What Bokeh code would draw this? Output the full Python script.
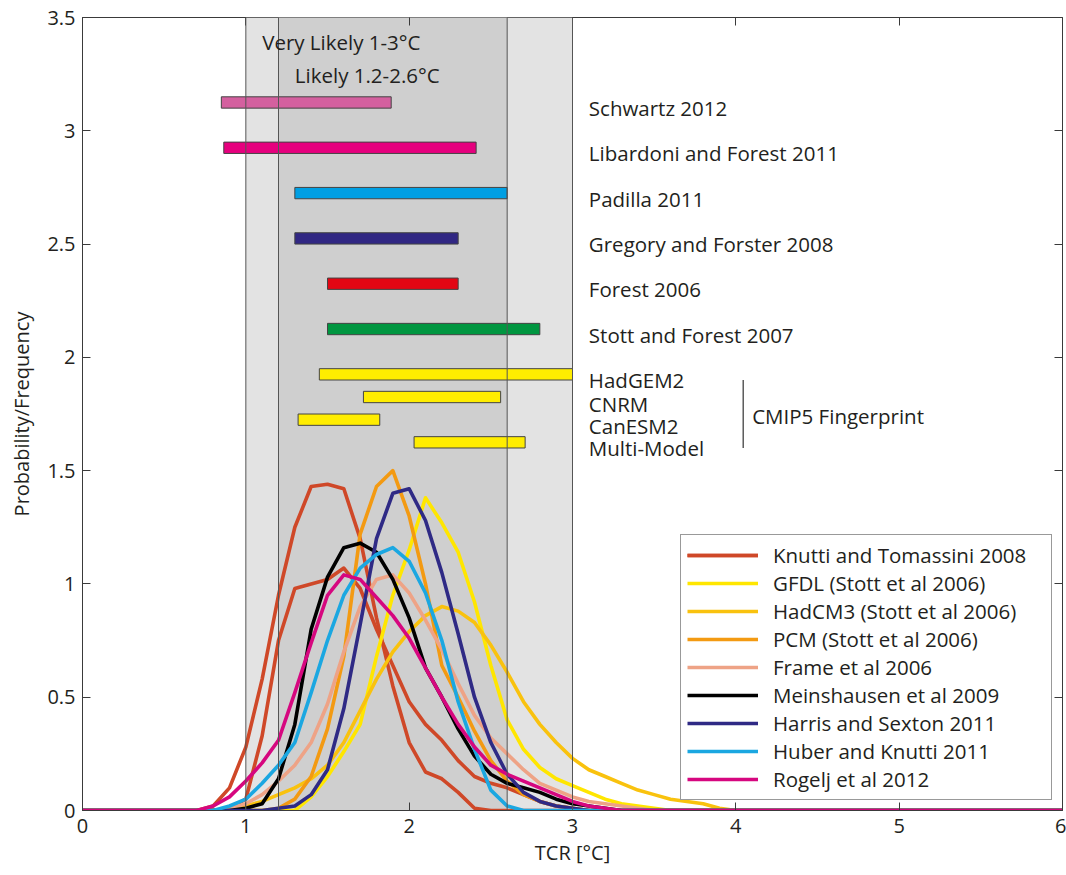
from bokeh.plotting import figure
from bokeh.models import (Legend, LegendItem, LinearAxis, Range1d, FixedTicker,
                          Label, Span)
from bokeh.embed import file_html
from bokeh.resources import INLINE
from bokeh.core.properties import value

FONT = "Open Sans"
TXT = "#231f20"
FS = "20.5px"

# ---------------- data ----------------
tcr = [0.0, 0.6, 0.7, 0.8, 0.9, 1.0, 1.1, 1.2, 1.3, 1.4, 1.5, 1.6, 1.7, 1.8, 1.9,
       2.0, 2.1, 2.2, 2.3, 2.4, 2.5, 2.6, 2.7, 2.8, 2.9, 3.0, 3.1, 3.2, 3.3, 3.4,
       3.5, 3.6, 3.7, 3.8, 3.9, 4.0, 6.0]

knutti_a = [0, 0, 0, 0.02, 0.10, 0.28, 0.58, 0.95, 1.25, 1.43, 1.44, 1.42, 1.20, 0.85, 0.55,
            0.30, 0.17, 0.14, 0.08, 0.01, 0, 0, 0, 0, 0, 0, 0, 0, 0, 0,
            0, 0, 0, 0, 0, 0, 0]
knutti_b = [0, 0, 0, 0, 0.01, 0.05, 0.33, 0.75, 0.98, 1.00, 1.02, 1.07, 0.98, 0.80, 0.64,
            0.48, 0.38, 0.31, 0.22, 0.15, 0.12, 0.10, 0.07, 0.04, 0.02, 0.01, 0, 0, 0, 0,
            0, 0, 0, 0, 0, 0, 0]
gfdl = [0, 0, 0, 0, 0, 0, 0, 0, 0, 0.06, 0.15, 0.26, 0.38, 0.68, 0.95,
        1.15, 1.38, 1.27, 1.14, 0.92, 0.64, 0.40, 0.27, 0.19, 0.14, 0.11, 0.08, 0.05, 0.03, 0.02,
        0.01, 0, 0, 0, 0, 0, 0]
hadcm3 = [0, 0, 0, 0, 0.01, 0.02, 0.04, 0.07, 0.10, 0.14, 0.20, 0.30, 0.44, 0.58, 0.70,
          0.79, 0.86, 0.90, 0.88, 0.83, 0.73, 0.61, 0.48, 0.38, 0.30, 0.23, 0.18, 0.15, 0.12, 0.09,
          0.07, 0.05, 0.04, 0.03, 0.01, 0, 0]
pcm = [0, 0, 0, 0, 0, 0, 0, 0.01, 0.05, 0.15, 0.36, 0.68, 1.22, 1.43, 1.50,
       1.30, 1.00, 0.64, 0.50, 0.35, 0.22, 0.13, 0.07, 0.04, 0.02, 0.01, 0, 0, 0, 0,
       0, 0, 0, 0, 0, 0, 0]
frame_ = [0, 0, 0, 0, 0.01, 0.03, 0.07, 0.13, 0.20, 0.30, 0.47, 0.70, 0.90, 1.02, 1.04,
          0.96, 0.84, 0.71, 0.56, 0.42, 0.32, 0.25, 0.18, 0.12, 0.09, 0.06, 0.04, 0.03, 0.02, 0.01,
          0, 0, 0, 0, 0, 0, 0]
meinshausen = [0, 0, 0, 0, 0, 0.01, 0.03, 0.14, 0.38, 0.80, 1.03, 1.16, 1.18, 1.14, 1.02,
               0.85, 0.63, 0.50, 0.36, 0.24, 0.16, 0.12, 0.10, 0.08, 0.05, 0.03, 0.02, 0.01, 0, 0,
               0, 0, 0, 0, 0, 0, 0]
harris = [0, 0, 0, 0, 0, 0, 0, 0.01, 0.02, 0.07, 0.18, 0.45, 0.82, 1.20, 1.40,
          1.42, 1.28, 1.05, 0.78, 0.50, 0.30, 0.16, 0.08, 0.04, 0.02, 0.01, 0, 0, 0, 0,
          0, 0, 0, 0, 0, 0, 0]
huber = [0, 0, 0, 0, 0.02, 0.05, 0.12, 0.20, 0.30, 0.52, 0.75, 0.95, 1.07, 1.13, 1.16,
         1.10, 0.96, 0.75, 0.48, 0.27, 0.09, 0.02, 0, 0, 0, 0, 0, 0, 0, 0,
         0, 0, 0, 0, 0, 0, 0]
rogelj = [0, 0, 0, 0.02, 0.06, 0.13, 0.21, 0.31, 0.52, 0.74, 0.95, 1.04, 1.02, 0.94, 0.86,
          0.76, 0.63, 0.50, 0.38, 0.28, 0.20, 0.16, 0.13, 0.10, 0.07, 0.04, 0.02, 0.01, 0, 0,
          0, 0, 0, 0, 0, 0, 0]

curve_names = ["Knutti and Tomassini 2008", "GFDL (Stott et al 2006)",
               "HadCM3 (Stott et al 2006)", "PCM (Stott et al 2006)", "Frame et al 2006",
               "Meinshausen et al 2009", "Harris and Sexton 2011", "Huber and Knutti 2011",
               "Rogelj et al 2012"]
curve_colors = ["#cf4828", "#ffe600", "#f9c20e", "#f39a12", "#eea386",
                "#000000", "#2f2a85", "#1ba7e1", "#d6077f"]

range_names = ["Schwartz 2012", "Libardoni and Forest 2011", "Padilla 2011",
               "Gregory and Forster 2008", "Forest 2006", "Stott and Forest 2007"]
range_lo = [0.85, 0.865, 1.30, 1.30, 1.50, 1.50]
range_hi = [1.89, 2.41, 2.60, 2.30, 2.30, 2.80]
range_colors = ["#d4609f", "#e6007e", "#009fe3", "#312783", "#e30613", "#009640"]

cmip_names = ["HadGEM2", "CNRM", "CanESM2", "Multi-Model"]
cmip_lo = [1.45, 1.72, 1.32, 2.03]
cmip_hi = [3.00, 2.56, 1.82, 2.71]

very_likely = [1.0, 3.0]
likely = [1.2, 2.6]

x_ticks = [0, 1, 2, 3, 4, 5, 6]
y_ticks = [0, 0.5, 1, 1.5, 2, 2.5, 3, 3.5]

# ---------------- layout positions ----------------
range_rows = [3.125, 2.925, 2.725, 2.525, 2.325, 2.125]
cmip_rows = [1.925, 1.825, 1.725, 1.625]
cmip_text_rows = [1.898, 1.796, 1.695, 1.598]
bar_h = 0.05
label_x = 3.10

p = figure(width=1066, height=875, x_range=Range1d(0, 6), y_range=Range1d(0, 3.5),
           output_backend="svg", toolbar_location=None,
           min_border_left=82, min_border_right=4, min_border_top=17, min_border_bottom=65)
p.grid.visible = False
p.outline_line_color = "#3a3a3a"
p.outline_line_width = 1

# shading
p.quad(left=[very_likely[0]], right=[very_likely[1]], bottom=[0], top=[3.5],
       fill_color="#e3e3e3", line_color=None)
p.quad(left=[likely[0]], right=[likely[1]], bottom=[0], top=[3.5],
       fill_color="#cfcfcf", line_color=None)
for v in very_likely + likely:
    p.add_layout(Span(location=v, dimension="height", line_color="#555555", line_width=1))

# range bars
p.quad(left=range_lo, right=range_hi,
       bottom=[r - bar_h / 2 for r in range_rows], top=[r + bar_h / 2 for r in range_rows],
       fill_color=range_colors, line_color="#444444", line_width=1)
p.quad(left=cmip_lo, right=cmip_hi,
       bottom=[r - bar_h / 2 for r in cmip_rows], top=[r + bar_h / 2 for r in cmip_rows],
       fill_color="#ffed00", line_color="#444444", line_width=1)

p.text(x=[label_x] * len(range_names), y=[r - 0.025 for r in range_rows], text=range_names,
       text_font=value(FONT), text_font_size=FS, text_color=TXT,
       text_baseline="middle", text_align="left")
p.text(x=[label_x] * len(cmip_names), y=cmip_text_rows, text=cmip_names,
       text_font=value(FONT), text_font_size=FS, text_color=TXT,
       text_baseline="middle", text_align="left")
p.segment(x0=[4.045], y0=[1.60], x1=[4.045], y1=[1.90], line_color="#333333", line_width=1.2)
p.text(x=[4.10], y=[1.743], text=["CMIP5 Fingerprint"],
       text_font=value(FONT), text_font_size=FS, text_color=TXT,
       text_baseline="middle", text_align="left")

p.add_layout(Label(x=1.10, y=3.394, text="Very Likely 1-3°C", text_font=FONT,
                   text_font_size=FS, text_color=TXT, text_baseline="middle"))
p.add_layout(Label(x=1.30, y=3.248, text="Likely 1.2-2.6°C", text_font=FONT,
                   text_font_size=FS, text_color=TXT, text_baseline="middle"))

# curves
series = [[knutti_a, knutti_b], [gfdl], [hadcm3], [pcm], [frame_], [meinshausen],
          [harris], [huber], [rogelj]]
items = []
for name, col, group in zip(curve_names, curve_colors, series):
    rs = []
    for ys in group:
        r = p.line(tcr, ys, line_color=col, line_width=3.6, line_join="round")
        rs.append(r)
    items.append(LegendItem(label=name, renderers=rs))

legend = Legend(items=items, location=(598, 10), orientation="vertical",
                label_text_font=FONT, label_text_font_size=FS, label_text_color=TXT,
                glyph_width=71, glyph_height=22, label_height=27, label_width=272,
                label_standoff=15, spacing=0, padding=6, margin=0,
                border_line_color="#333333", border_line_width=1,
                background_fill_color="white", background_fill_alpha=1.0)
p.add_layout(legend)

# axes
for ax in [p.xaxis[0], p.yaxis[0]]:
    ax.major_tick_in = 8
    ax.major_tick_out = 0
    ax.minor_tick_line_color = None
    ax.axis_line_color = "#3a3a3a"
    ax.major_tick_line_color = "#3a3a3a"
    ax.major_label_text_font = FONT
    ax.major_label_text_font_size = "20px"
    ax.major_label_text_color = TXT
    ax.axis_label_text_font = FONT
    ax.axis_label_text_font_size = "20px"
    ax.axis_label_text_font_style = "normal"
    ax.axis_label_text_color = TXT
p.xaxis[0].ticker = FixedTicker(ticks=x_ticks)
p.yaxis[0].ticker = FixedTicker(ticks=y_ticks)
p.yaxis[0].major_label_overrides = {v: ("%g" % v) for v in y_ticks}
p.xaxis[0].axis_label = "TCR [°C]"
p.yaxis[0].axis_label = "Probability/Frequency"
p.xaxis[0].major_label_standoff = 8
p.xaxis[0].axis_label_standoff = 3
p.yaxis[0].major_label_standoff = 7
p.yaxis[0].axis_label_standoff = 9

top = LinearAxis(ticker=FixedTicker(ticks=x_ticks), major_tick_in=8, major_tick_out=0,
                 minor_tick_line_color=None, axis_line_color=None,
                 major_tick_line_color="#3a3a3a", major_label_standoff=0,
                 major_label_overrides={v: "" for v in x_ticks})
right = LinearAxis(ticker=FixedTicker(ticks=y_ticks), major_tick_in=8, major_tick_out=0,
                   minor_tick_line_color=None, axis_line_color=None,
                   major_tick_line_color="#3a3a3a", major_label_standoff=0,
                   major_label_overrides={v: "" for v in y_ticks})
p.add_layout(top, "above")
p.add_layout(right, "right")

open("out.html", "w").write(file_html(p, INLINE))
